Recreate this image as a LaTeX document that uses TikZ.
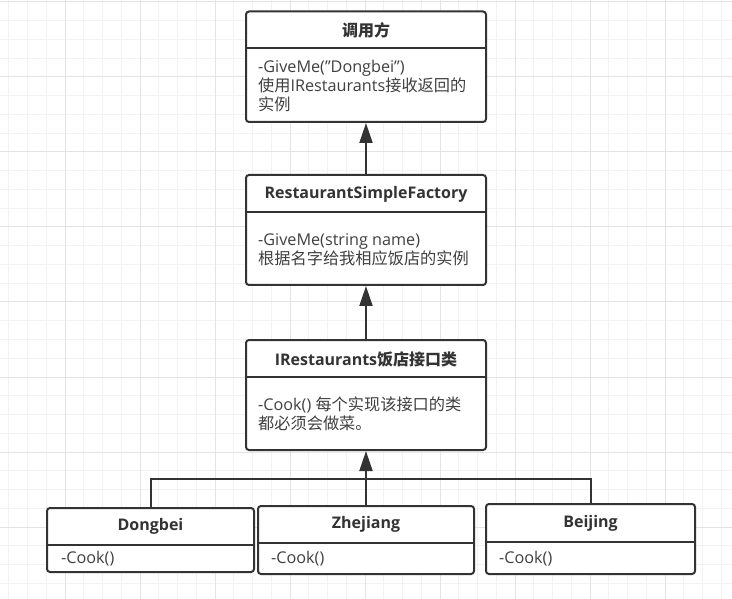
\documentclass[tikz,border=0pt]{standalone}
\usepackage{fontspec}
\setmainfont{Open Sans}
\newfontfamily\cjk{Noto Sans CJK SC}
\usetikzlibrary{arrows.meta}
\definecolor{ink}{HTML}{333333}
\definecolor{bodyink}{HTML}{404040}
\definecolor{minorg}{HTML}{F2F2F2}
\definecolor{majorg}{HTML}{E3E3E3}
\tikzset{
  umlbox/.style={draw=ink, line width=2pt, rounded corners=3pt, fill=white, inner sep=0pt},
  divider/.style={draw=ink, line width=2pt},
  titletext/.style={text=ink, font=\fontsize{16}{18}\selectfont\bfseries, inner sep=0pt},
  bodytext/.style={text=bodyink, font=\fontsize{16.2}{18.8}\selectfont, align=left, anchor=west, inner sep=0pt},
  conn/.style={draw=ink, line width=2pt},
  inherit/.style={conn, -{Triangle[width=13pt,length=20pt]}},
  minorline/.style={draw=minorg, line width=1pt},
  majorline/.style={draw=majorg, line width=1pt},
}
\begin{document}
\begin{tikzpicture}[x=1pt,y=-1pt]
\useasboundingbox (0,0) rectangle (732,599);
\fill[white] (0,0) rectangle (732,599);
% grid
\foreach \i in {0,...,39} {
  \draw[minorline] (8.75+18.75*\i,0) -- (8.75+18.75*\i,599);
}
\foreach \i in {0,...,32} {
  \draw[minorline] (0,2+18.75*\i) -- (732,2+18.75*\i);
}
\foreach \i in {0,...,9} {
  \draw[majorline] (65+75*\i,0) -- (65+75*\i,599);
}
\foreach \i in {0,...,8} {
  \draw[majorline] (0,2+75*\i) -- (732,2+75*\i);
}

% box 1: 调用方
\node[umlbox, minimum width=240, minimum height=110.5] (caller) at (366,66.75) {};
\draw[divider] (caller.west |- 0,48) -- (caller.east |- 0,48);
\node[titletext] (callerT) at (366,30.5) {\cjk 调用方};
\node[bodytext] (callerB) at (258,86) {-GiveMe(\symbol{"22}Dongbei\symbol{"22})\\{\cjk 使用}IRestaurants{\cjk 接收返回的}\\{\cjk 实例}};

% box 2: RestaurantSimpleFactory
\node[umlbox, minimum width=240, minimum height=110] (factory) at (366,230) {};
\draw[divider] (factory.west |- 0,212) -- (factory.east |- 0,212);
\node[titletext] (factoryT) at (366,194) {RestaurantSimpleFactory};
\node[bodytext] (factoryB) at (258,249.5) {-GiveMe(string name)\\{\cjk 根据名字给我相应饭店的实例}};

% box 3: IRestaurants
\node[umlbox, minimum width=240, minimum height=110] (iface) at (366,395) {};
\draw[divider] (iface.west |- 0,377) -- (iface.east |- 0,377);
\node[titletext] (ifaceT) at (366,359) {IRestaurants{\cjk 饭店接口类}};
\node[bodytext] (ifaceB) at (258,413.5) {-Cook() {\cjk 每个实现该接口的类}\\{\cjk 都必须会做菜。}};

% bottom boxes
\node[umlbox, minimum width=207, minimum height=64] (dongbei) at (150.5,540) {};
\draw[divider] (dongbei.west |- 0,545) -- (dongbei.east |- 0,545);
\node[titletext] (dongbeiT) at (150.5,526.5) {Dongbei};
\node[bodytext] (dongbeiB) at (61,558.5) {-Cook()};

\node[umlbox, minimum width=216, minimum height=68] (zhejiang) at (366,540) {};
\draw[divider] (zhejiang.west |- 0,543) -- (zhejiang.east |- 0,543);
\node[titletext] (zhejiangT) at (366,524.5) {Zhejiang};
\node[bodytext] (zhejiangB) at (271,558.5) {-Cook()};

\node[umlbox, minimum width=209, minimum height=70] (beijing) at (590.5,539) {};
\draw[divider] (beijing.west |- 0,542) -- (beijing.east |- 0,542);
\node[titletext] (beijingT) at (590.5,523.5) {Beijing};
\node[bodytext] (beijingB) at (499,558.5) {-Cook()};

% connectors
\draw[inherit] (factory.north) -- (caller.south);
\draw[inherit] (iface.north) -- (factory.south);
\coordinate (junction) at (366,479);
\draw[conn] (dongbei.north) |- (junction) -| (beijing.north);
\draw[inherit] (zhejiang.north) -- (iface.south);
\end{tikzpicture}
\end{document}
